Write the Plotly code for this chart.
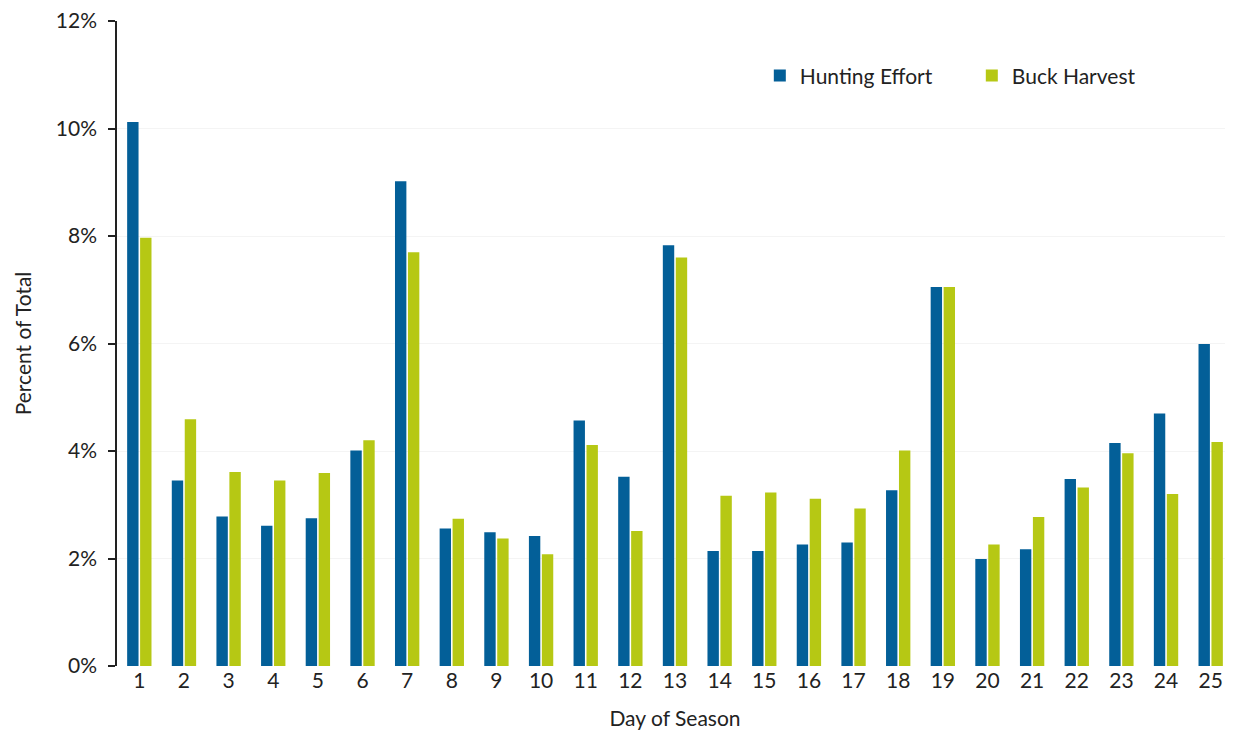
import plotly.graph_objects as go

days = [str(d) for d in range(1, 26)]
hunting_effort = [10.12, 3.45, 2.78, 2.61, 2.75, 4.01, 9.02, 2.56, 2.49,
                  2.42, 4.57, 3.52, 7.83, 2.14, 2.14, 2.26, 2.30,
                  3.27, 7.05, 1.99, 2.17, 3.48, 4.15, 4.70, 5.99]
buck_harvest = [7.97, 4.59, 3.61, 3.45, 3.59, 4.20, 7.70, 2.74, 2.37,
                2.08, 4.11, 2.51, 7.60, 3.17, 3.23, 3.11, 2.93,
                4.01, 7.05, 2.26, 2.77, 3.32, 3.96, 3.20, 4.17]
y_ticks = [0, 2, 4, 6, 8, 10, 12]
y_tick_labels = ["0%", "2%", "4%", "6%", "8%", "10%", "12%"]

font_family = "Lato, 'Open Sans', sans-serif"
fs = 21

fig = go.Figure()
fig.add_trace(go.Bar(x=days, y=hunting_effort, name="Hunting Effort",
                     marker=dict(color="#035f98", line=dict(width=0))))
fig.add_trace(go.Bar(x=days, y=buck_harvest, name="Buck Harvest",
                     marker=dict(color="#b6c814", line=dict(width=0))))

fig.update_layout(
    width=1225, height=723,
    margin=dict(l=109, r=0, t=13, b=65),
    paper_bgcolor="white", plot_bgcolor="white",
    barmode="group", bargap=0.42, bargroupgap=0.12,
    font=dict(family=font_family, size=fs, color="#222222"),
    legend=dict(orientation="h", x=0.576, y=0.915, xanchor="left", yanchor="middle",
                font=dict(size=fs, color="#222222"), itemwidth=30,
                entrywidth=167, entrywidthmode="pixels",
                traceorder="normal", bgcolor="rgba(0,0,0,0)"),
    xaxis=dict(
        title=dict(text="Day of Season", font=dict(size=fs), standoff=20),
        showline=False, ticks="", showgrid=False, tickfont=dict(size=fs),
    ),
    yaxis=dict(
        title=dict(text="Percent of Total", font=dict(size=fs), standoff=18),
        range=[0, 12.001], tickvals=y_ticks, ticktext=y_tick_labels,
        showline=True, linecolor="#222222", linewidth=1.5,
        ticks="outside", ticklen=7, tickcolor="#222222", tickwidth=1.5,
        ticklabelstandoff=7, ticklabeloverflow="allow",
        showgrid=True, gridcolor="#f4f4f4", zeroline=False,
        tickfont=dict(size=fs),
    ),
)

fig.write_html("out.html")
